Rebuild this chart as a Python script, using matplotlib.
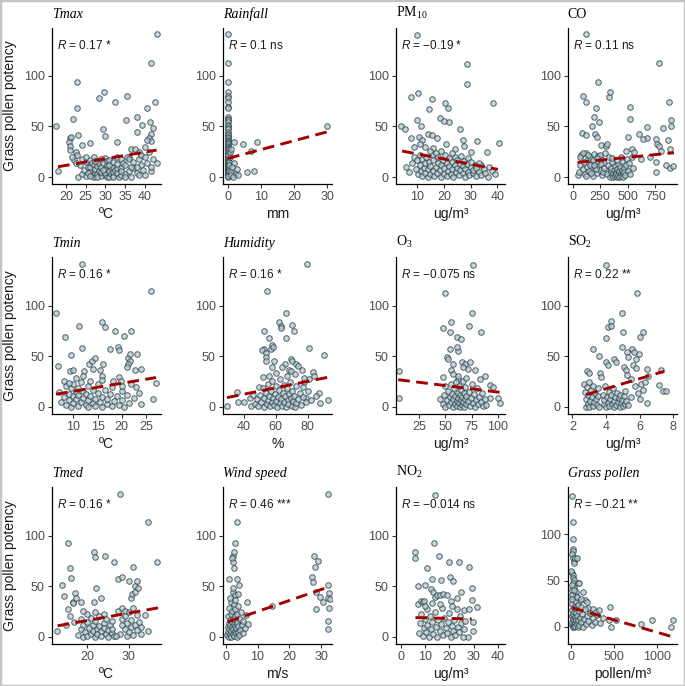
import matplotlib
matplotlib.use("Agg")
import matplotlib.pyplot as plt
from matplotlib.patches import Rectangle

plt.rcParams['font.family'] = ['Liberation Sans', 'DejaVu Sans']
plt.rcParams['mathtext.fontset'] = 'custom'
plt.rcParams['mathtext.rm'] = 'Liberation Sans'
plt.rcParams['mathtext.it'] = 'Liberation Sans:italic'

# ---- data: (x, potency) pairs per panel ----
tmax_pts = [(17.5,50),(18,6),(21.8,57),(22.8,94),(22.9,68),(23,42),(28.4,78),(29.6,84),(32.5,74),(35.6,80),(35.2,56),(29.5,47),(30,41),(38.1,59),(39.2,51),(40.6,68),(41.6,113),(43.1,141),(42.6,74),(41.3,54),(42,48),(41.5,43),(41.2,39),(41.7,36),(40.5,37),(38,45),(43,14),(41.7,6),(33,35),(26,34),(24,32),(21,39),(21.3,40),(20.8,35),(21,31),(21,27),(22.5,25),(22.8,22),(36.6,28),(37.5,28),(38.5,25),(40,30),(36,20),
    (23,0),(23.5,12),(24,3),(24,18),(24.5,7),(25,1),(25,15),(25,20),(25.5,10),(26,5),(26,10),(26,17),(26.5,2),(26.5,14),(27,0),(27,12),(27,20),(27.5,4),(27.5,8),(28,3),(28,11),(28,16),(28.5,6),(28.5,14),(29,1),(29,5),(29,10),(29,18),(29.5,14),(30,2),(30,4),(30,8),(30,19),(30.5,0),(30.5,12),(30.5,16),(31,0),(31,6),(31,17),(31.5,3),(31.5,9),(32,1),(32,5),(32,10),(32,15),(32.5,7),(33,4),(33,9),(33,13),(33,20),(33.5,0),(34,2),(34,9),(34,18),(34.5,14),(35,3),(35,12),(35.5,20),(36,6),(36,18),(36.5,0),(37,9),(37,15),(38,4),(38.5,18),(39,12),(39,22),(39.5,7),(40,2),(40,20),(40.5,14),(41,25),(41.5,10),(42,18),(22,17),(21.5,20),(22.5,14),(25.5,4),(27.5,16),(29.5,7),(31,12),(34,6),(36.5,10),(38,10),(28,0),(26,1),(32,0),(35,0),(38.5,2)]

rain_pts = [(0,141),(0,113),(0,94),(0,84),(0,80),(0,78),(0,74),(0,69),(0,68),(0,59),(0,57),(0,56),(0,54),(0,51),(0,50),(0,48),(0,47),(0,45),(0,43),(0,42),(0,40),(0,39),(0,37),(0,36),(0,35),(0,34),(0,33),(0,31),(0,30),(0,29),(0,28),(0,27),(0,25),(0,24),(0,22),(0,21),(0,20),(0,19),(0,18),(0,17),(0,16),(0,15),(0,14),(0,13),(0,12),(0,11),(0,10),(0,9),(0,8),(0,7),(0,6),(0,5),(0,4),(0,3),(0,2),(0,1),(0,0),
    (0.2,3),(0.2,9),(0.2,15),(0.3,6),(0.3,12),(0.1,22),(0.1,1),
    (1.8,35),(4.5,33),(8.7,35),(6.8,26),(5.6,5),(7.8,6),(30,50),(1.7,14),(2.7,8),(2,3),(1,5),(0.8,2),(1.2,10),(0.5,20),(1.5,0),(3,2),(0.6,25),(1,28)]

pm10_pts = [(10.1,140),(28.7,112),(28.7,92),(38.4,73),(10.5,83),(7.8,79),(15.7,77),(20.5,73),(21.5,68),(14.3,67),(10,56),(18.7,58),(20.2,55),(22,54),(3.8,50),(5.6,47),(11.5,50),(25.9,47),(14,43),(15.5,42),(10.7,40),(7.8,39),(12,37),(17.3,39),(27,37),(32.3,36),(40.8,34),(20.8,33),(27.5,31),(6,10),(7,5),(9,30),(11,33),(13,30),(16,29),(24,28),(30,25),(36,25),(34,12),
    (8,14),(9,20),(9.5,8),(10,17),(10.5,3),(11,12),(11,22),(11.5,6),(12,18),(12,1),(12.5,9),(13,14),(13,4),(13.5,20),(14,8),(14,0),(14.5,15),(15,3),(15,11),(15.5,22),(16,6),(16,17),(16.5,1),(17,10),(17,24),(17.5,4),(18,14),(18,20),(18.5,7),(19,0),(19,12),(19.5,17),(20,3),(20,9),(20.5,22),(21,14),(21,1),(21.5,6),(22,11),(22,19),(22.5,3),(23,8),(23,15),(23.5,0),(24,12),(24,20),(24.5,5),(25,9),(25,17),(25.5,2),(26,13),(26,7),(26.5,21),(27,4),(27,11),(27.5,16),(28,0),(28,8),(28.5,13),(29,5),(29,19),(29.5,2),(30,10),(30,15),(31,4),(31,7),(31.5,12),(32,1),(32,9),(33,5),(33,14),(34,2),(35,8),(35.5,4),(36.5,0),(37,10),(38,6),(39,3),(19,26),(23,24),(15,26)]

co_pts = [(117,141),(96,80),(122,74),(234,94),(210,68),(242,54),(190,59),(175,50),(199,43),(220,40),(85,44),(117,42),(327,79),(336,84),(256,32),(306,31),(315,33),(520,69),(521,57),(506,40),(534,28),(598,43),(671,39),(677,49),(788,113),(878,74),(896,56),(890,50),(817,48),(759,38),(765,33),(780,31),(800,26),(866,37),(887,28),(759,15),(759,5),(846,12),(881,9),(910,11),(640,38),(700,20),(560,25),(480,26),(620,18),
    (50,2),(60,5),(70,12),(80,22),(90,8),(100,15),(110,3),(120,24),(130,10),(140,18),(150,6),(160,20),(170,13),(180,1),(190,23),(200,9),(210,16),(220,4),(230,21),(240,11),(250,7),(260,18),(270,2),(280,14),(290,24),(300,6),(65,20),(95,24),(125,1),(155,12),(185,17),(215,8),(245,22),(275,5),(135,22),(165,4),(195,12),(225,19),(255,13),(285,9),
    (310,3),(320,12),(330,20),(340,0),(345,6),(350,9),(355,2),(360,15),(365,4),(370,0),(375,7),(380,11),(385,1),(390,5),(395,3),(400,8),(405,0),(410,13),(415,2),(420,6),(425,0),(430,10),(435,4),(440,1),(445,7),(450,16),(455,3),(460,0),(465,9),(470,5),(475,2),(480,12),(490,18),(500,6),(510,14),(520,3),(540,20),(550,9),(440,20),(400,17),(360,19)]

tmin_pts = [(6.3,93),(6.8,40),(8.3,69),(9.4,51),(9.2,35),(9.9,36),(11.2,80),(11.7,58),(11.8,141),(12.1,35),(13.2,42),(13.9,45),(14.5,48),(14,37),(15.9,84),(16.6,79),(16.1,42),(15.6,36),(17.6,57),(18.7,75),(19.2,59),(19.5,56),(20.5,70),(21.9,75),(21.2,48),(21.7,45),(21.4,42),(21,39),(21.8,52),(23.1,52),(22.8,36),(23.9,37),(23,19),(26.1,114),(26.4,8),(27.1,23),(19.5,29),(18.1,25),(19.9,25),(12,30),(10.5,28),(8,25),(16,30),
    (7,15),(7.5,5),(8,10),(8.5,20),(8.5,2),(9,13),(9,7),(9.5,18),(9.5,0),(10,11),(10,4),(10,22),(10.5,15),(10.5,8),(11,1),(11,18),(11,12),(11.5,5),(11.5,24),(12,9),(12,16),(12.5,2),(12.5,13),(13,7),(13,20),(13,0),(13.5,11),(14,4),(14,17),(14.5,8),(14.5,1),(15,14),(15,22),(15.5,5),(16,10),(16,0),(16.5,17),(17,3),(17,8),(17.5,13),(18,1),(18,19),(18.5,6),(19,11),(19.5,2),(20,16),(20,7),(20.5,0),(21,12),(21.5,4),(22,22),(22.5,9),(23.5,14),(24,3),(20,20),(9,23),(13.5,25),(16,26)]

hum_pts = [(29.7,1),(35.8,15),(36.4,5),(40.4,5),(44.2,9),(45.9,12),(44.8,1),(49.5,19),(52.6,57),(51.6,56),(52.6,75),(53.7,53),(53.7,49),(54.1,45),(54.7,114),(55.8,68),(57.3,57),(57.5,61),(58.5,59),(58.9,45),(57.9,39),(62.1,84),(63.2,80),(63.2,78),(66.3,93),(66.7,68),(65.7,42),(70.5,81),(71.6,75),(69.5,47),(70.5,45),(64.2,39),(68.4,36),(69.9,35),(73,42),(74.3,40),(79.4,141),(80.6,58),(78.9,9),(76.2,36),(83.2,34),(84.2,30),(90.5,51),(92.6,7),(87.4,14),(88,4),(81,27),(77.9,24),(77.3,19),(56,30),(52,29),
    (47,3),(48,8),(49,1),(50,12),(51,5),(52,18),(52.5,0),(53,9),(54,14),(54.5,3),(55,22),(55.5,7),(56,11),(56.5,1),(57,16),(57.5,5),(58,25),(58.5,9),(59,2),(59.5,13),(60,20),(60.5,6),(61,0),(61.5,10),(62,17),(62.5,4),(63,27),(63.5,8),(64,1),(64.5,14),(65,21),(65.5,5),(66,11),(66.5,0),(67,18),(67.5,7),(68,3),(68.5,13),(69,24),(69.5,9),(70,1),(70.5,16),(71,6),(71.5,11),(72,0),(72.5,20),(73,4),(74,8),(75,14),(76,2),(77,10),(78,28),(79,5),(80,16),(82,7),(85,11),(60,33),(67,30),(72,32)]

o3_pts = [(5.6,35),(5.6,9),(76.4,140),(49.4,112),(47.9,78),(55.2,84),(54.2,74),(60.6,69),(64.4,67),(74.8,93),(72.6,80),(83.4,74),(54.2,57),(61.5,55),(60.6,59),(51,49),(52.6,47),(65.3,44),(69,42),(73.3,44),(71.7,37),(67,39),(78,36),(57.4,42),(55.2,36),(47.2,29),(57.4,32),(62,27),(82.8,27),(87.5,30),(92.3,21),(95.5,19),(92.3,9),(100.2,9),(101.8,4),(50,20),(45,8),
    (48,3),(49,12),(50,0),(51,7),(52,16),(53,2),(54,10),(55,22),(55.5,5),(56,13),(57,0),(57.5,8),(58,18),(59,3),(59.5,11),(60,24),(60.5,6),(61,1),(61.5,14),(62,9),(62.5,20),(63,4),(63.5,0),(64,12),(64.5,7),(65,17),(65.5,2),(66,10),(66.5,25),(67,5),(67.5,14),(68,0),(68.5,8),(69,19),(69.5,3),(70,11),(71,6),(72,15),(73,1),(74,9),(75,22),(76,4),(77,13),(78,0),(79,7),(80,18),(81,3),(82,10),(84,5),(85,14),(86,1),(88,8),(89,2),(62,30),(70,28)]

so2_pts = [(4,140),(5.82,112),(4.94,93),(4.3,85),(4.12,79),(4.32,80),(5,74),(6.22,74),(6,69),(4,68),(4.96,59),(3.2,57),(5.56,57),(5.66,54),(5.26,54),(5.3,49),(3.56,50),(5.96,52),(5.8,47),(4.46,47),(4.62,44),(4,44),(4.14,41),(5.06,39),(5.16,36),(5.6,41),(5.76,38),(6.46,37),(2.86,35),(2.96,33),(3.62,33),(3.7,29),(5.26,31),(5.46,27),(7.26,36),(7.16,21),(7.36,16),(7.56,16),(6.46,4),(6.06,22),(6.2,17),
    (2.7,22),(2.75,15),(2.8,0),(2.8,8),(2.85,19),(2.9,3),(2.95,12),(3,0),(3,24),(3.05,6),(3.1,17),(3.15,10),(3.2,1),(3.25,20),(3.3,5),(3.35,14),(3.4,8),(3.45,2),(3.5,18),(3.55,11),(3.6,0),
    (3.8,12),(3.85,3),(3.9,7),(3.95,20),(4,0),(4.05,10),(4.1,4),(4.15,15),(4.2,1),(4.25,8),(4.3,12),(4.35,3),(4.4,18),(4.45,6),(4.5,0),(4.55,10),(4.6,2),(4.65,14),(4.7,5),(4.75,9),(4.8,0),(4.85,12),(4.9,4),(4.95,7),(5,1),(5.05,11),(5.1,3),(5.15,16),(5.2,6),(5.3,2),(5.5,10),(5.7,20),(5.9,14),(6.3,24),(6.5,30),(6,8)]

tmed_pts = [(12.8,6),(14,51),(14.6,40),(15.6,27),(15.4,93),(15.9,68),(16.3,58),(17.1,43),(16.6,34),(16.8,33),(17.4,38),(18.6,34),(21.8,84),(21.9,79),(22.2,48),(24.3,80),(26.6,74),(28,141),(27.4,57),(28.4,59),(30,55),(31,69),(30.6,38),(30.7,42),(31.4,44),(31.5,50),(32.2,48),(32,55),(34.6,113),(36.8,74),(33.9,21),(34.6,6),(33,10),(27.4,25),(28.3,28),(29,25),(21.8,34),(23.4,38),(16,20),(17,15),(15,12),
    (18,2),(18.5,8),(18.5,18),(19,0),(19,12),(19.5,5),(20,15),(20,1),(20.5,9),(21,3),(21,19),(21.5,12),(21.5,6),(22,0),(22,16),(22.5,8),(22.5,3),(23,11),(23,20),(23.5,1),(23.5,6),(24,14),(24,9),(24.5,3),(24.5,18),(25,0),(25,7),(25.5,12),(26,4),(26,16),(26.5,1),(20,22),(22,24),(24,22),(19,25),
    (28,3),(28.5,12),(28.5,18),(29,8),(29,20),(29.5,1),(29.5,14),(30,5),(30,24),(30.5,10),(30.5,17),(31,2),(31,28),(31.5,12),(32,7),(32,21),(32.5,15),(33,3),(27,1),(26,8)]

wind_pts = [(0.94,57),(1.6,34),(2.3,74),(2.3,80),(2.6,84),(2,78),(2.5,68),(3.1,93),(3.6,113),(3.6,57),(4.2,51),(2.3,44),(2.8,41),(6.7,34),(14.5,30),(26.9,59),(27.4,54),(27.6,80),(28.1,69),(28.9,75),(28.2,44),(28.4,27),(29.5,39),(30.5,34),(32.1,141),(32.1,51),(32.3,43),(32.1,38),(32.6,37),(32.3,28),(32.1,16),(32.1,8),
    (0.6,2),(0.7,10),(0.8,20),(0.9,5),(1,14),(1,0),(1.1,28),(1.2,8),(1.3,17),(1.4,3),(1.5,12),(1.6,22),(1.7,6),(1.8,0),(1.9,15),(2,10),(2.1,25),(2.2,3),(2.3,18),(2.4,8),(2.5,32),(2.6,13),(2.7,1),(2.8,20),(2.9,6),(3,11),(3.1,27),(3.2,4),(3.3,16),(3.4,9),(3.5,0),(3.6,22),(3.7,14),(3.8,5),(3.9,30),(4,11),(4.2,2),(4.4,18),(4.6,7),(4.8,24),(5,12),(5.3,4),(5.6,16),(6,9),(6.5,21),(7,13),(1.5,38),(3,36),(2.2,48),(3.9,42)]

no2_pts = [(6.1,84),(5.9,78),(7.3,50),(7.3,32),(8.3,35),(9,34),(9.6,35),(10,51),(11,68),(12.7,57),(13.6,93),(14.3,140),(15.6,80),(12.3,47),(13.3,44),(14.3,39),(15,41),(16.2,41),(16.6,56),(17.6,42),(19.2,41),(19.8,74),(20.2,59),(21.5,55),(23.8,74),(20.9,35),(23.2,38),(24.6,44),(27.9,69),(29.5,48),(29.5,36),(31.4,29),(26.2,26),(27.9,27),(29.7,15),(29.7,6),(27.5,0),
    (7.5,4),(8,14),(8.5,22),(9,1),(9.5,9),(10,18),(10.5,5),(11,27),(11,12),(11.5,0),(12,20),(12.5,8),(13,15),(13.5,3),(14,24),(14.5,10),(15,0),(15.5,17),(16,6),(16.5,13),(17,28),(17.5,2),(18,19),(18.5,9),(19,4),(19.5,15),(20,23),(20.5,0),(21,11),(21.5,6),(22,17),(22.5,2),(23,27),(23.5,10),(24,5),(24.5,20),(25,14),(25.5,0),(26,8),(26.5,16),(10,30),(16,32),(21,30),(13,33)]

pollen_pts = [(12,142),(19,113),(19,95),(20,84),(25,82),(15,79),(20,75),(30,71),(35,69),(47,75),(66,75),(15,58),(20,56),(25,53),(35,51),(18,47),(78,47),(89,48),(39,42),(58,38),(136,38),(97,28),(167,29),(183,27),(455,22),(195,20),(253,19),(284,16),(370,10),(440,7),(517,7),(467,0),(817,3),(934,8),(1159,0),(1186,7),
    (5,2),(8,12),(10,25),(12,5),(15,18),(18,0),(20,32),(22,9),(25,14),(28,3),(30,22),(32,7),(35,0),(38,16),(40,28),(42,4),(45,11),(48,20),(50,1),(55,8),(58,15),(60,33),(65,3),(70,12),(75,24),(80,0),(85,7),(90,17),(95,2),(100,10),(110,21),(120,5),(130,14),(140,0),(150,9),(160,19),(170,3),(180,12),(200,6),(220,15),(240,2),(260,10),(280,5),(300,13),(320,18),(340,4),(5,40),(10,35),(8,45),(30,40),(70,32),(110,30),(3,60),(6,30)]

# regression line ends (x0, y0, x1, y1)
fits = [(18, 10.2, 43, 26.6), (0, 18.4, 30, 44.7), (4.4, 25.7, 40.2, 7.6), (44, 14.5, 919, 24),
        (6.4, 12.4, 27.1, 28.8), (29.5, 9, 93.7, 29.4), (5, 26.7, 101.8, 14.2), (2.82, 11.9, 7.46, 35),
        (13, 10.8, 37, 28.5), (0.7, 14.8, 31.6, 48.5), (6.1, 18.9, 29.2, 17.5), (12, 20.7, 1186, -10.9)]

titles = ['Tmax', 'Rainfall', r'PM$\mathregular{_{10}}$', 'CO',
          'Tmin', 'Humidity', r'O$\mathregular{_3}$', r'SO$\mathregular{_2}$',
          'Tmed', 'Wind speed', r'NO$\mathregular{_2}$', 'Grass pollen']
title_italic = [True, True, False, False, True, True, False, False, True, True, False, True]
r_labels = ['0.17 *', '0.1 ns', '\u22120.19 *', '0.11 ns',
            '0.16 *', '0.16 *', '\u22120.075 ns', '0.22 **',
            '0.16 *', '0.46 ***', '\u22120.014 ns', '\u22120.21 **']
x_units = ['ºC', 'mm', 'ug/m³', 'ug/m³', 'ºC', '%', 'ug/m³', 'ug/m³', 'ºC', 'm/s', 'ug/m³', 'pollen/m³']
x_ticks = [[20, 25, 30, 35, 40], [0, 10, 20, 30], [10, 20, 30, 40], [0, 250, 500, 750],
           [10, 15, 20, 25], [40, 60, 80], [25, 50, 75, 100], [2, 4, 6, 8],
           [20, 30], [0, 10, 20, 30], [0, 10, 20, 30, 40], [0, 500, 1000]]
x_lims = [(16.4, 44.2), (-1.6, 31.5), (2, 43), (-45, 950),
          (5.5, 28.2), (26.8, 95.5), (2.6, 107), (1.72, 8.24),
          (11.6, 37.8), (-0.9, 33.4), (-2, 43), (-39, 1233)]
panels = [tmax_pts, rain_pts, pm10_pts, co_pts, tmin_pts, hum_pts,
          o3_pts, so2_pts, tmed_pts, wind_pts, no2_pts, pollen_pts]

fig = plt.figure(figsize=(6.85, 6.86), dpi=100)
fig.patches.append(Rectangle((0, 0), 1, 1, transform=fig.transFigure, fill=False,
                             edgecolor='#c4c4c4', linewidth=2.5))

lefts = [0.0755, 0.3251, 0.5777, 0.8288]
bottoms = [0.7313, 0.3965, 0.0612]
w, h = 0.160, 0.2285

for i, pts in enumerate(panels):
    r, c = divmod(i, 4)
    ax = fig.add_axes([lefts[c], bottoms[r], w, h])
    xs = [p[0] for p in pts]
    ys = [p[1] for p in pts]
    ax.scatter(xs, ys, s=16, facecolor='#b4c9d0', edgecolor='#2a4048',
               linewidths=0.75, alpha=0.75, zorder=2)
    x0, y0, x1, y1 = fits[i]
    ax.plot([x0, x1], [y0, y1], color='#a30000', lw=2.1, ls=(0, (4, 2.2)), zorder=3)

    ax.set_xlim(*x_lims[i])
    ax.set_ylim(-18.5, 151) if i == 11 else ax.set_ylim(-7.2, 147.7)
    ax.set_xticks(x_ticks[i])
    ax.set_yticks([0, 50, 100])
    for s in ['top', 'right']:
        ax.spines[s].set_visible(False)
    for s in ['left', 'bottom']:
        ax.spines[s].set_linewidth(0.9)
        ax.spines[s].set_color('black')
    ax.tick_params(length=3, width=0.8, color='#333333', labelsize=9,
                   labelcolor='#4d4d4d', pad=2)
    ax.set_xlabel(x_units[i], fontsize=10, color='#1a1a1a', labelpad=3)
    if c == 0:
        ax.set_ylabel('Grass pollen potency', fontsize=10, color='#1a1a1a')
        ax.yaxis.set_label_coords(-0.315, 0.5)

    ax.text(0.0, 1.045, titles[i], transform=ax.transAxes, ha='left', va='bottom',
            fontsize=10, family='Liberation Serif',
            style='italic' if title_italic[i] else 'normal')
    ax.text(0.05, 0.93, r'$\mathit{R}$ = ' + r_labels[i], transform=ax.transAxes,
            ha='left', va='top', fontsize=8.5, color='#1a1a1a')

fig.savefig('out.png', dpi=100)
